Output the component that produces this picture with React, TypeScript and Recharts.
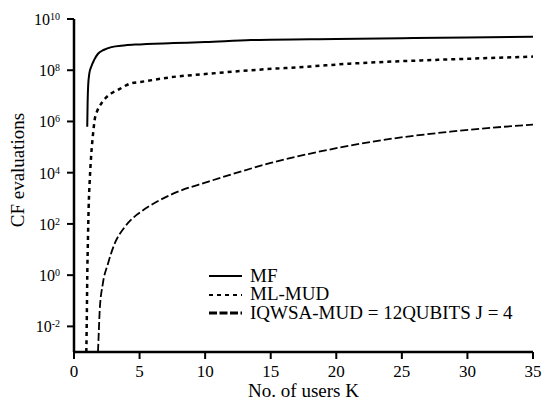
import { Line, LineChart, XAxis, YAxis } from "recharts";

const FONT = "'Liberation Serif', serif";

// (K, CF evaluations)
const mfK = [1.01, 1.04, 1.08, 1.17, 1.32, 1.55, 1.83, 2.3, 2.85, 3.8, 4.63, 7.6, 10, 13.5, 20, 25, 30, 35];
const mfVal = [6.2e5, 6.0e6, 2.5e7, 7.5e7, 1.4e8, 2.6e8, 4.4e8, 6.3e8, 8.0e8, 9.3e8, 1.0e9, 1.15e9, 1.26e9, 1.5e9, 1.66e9, 1.78e9, 1.9e9, 2.04e9];

const mlK = [0.94, 0.98, 1.01, 1.06, 1.12, 1.2, 1.32, 1.45, 1.57, 1.8, 2.08, 2.85, 3.3, 4.37, 5.08, 7.6, 10, 13.5, 18, 21, 23.6, 30, 35];
const mlVal = [1e-3, 0.03, 0.8, 20, 500, 5000, 5.6e4, 3.2e5, 1.1e6, 2.8e6, 5.0e6, 1.26e7, 1.66e7, 3.1e7, 3.5e7, 5.5e7, 7.1e7, 1.0e8, 1.4e8, 1.8e8, 2.1e8, 2.8e8, 3.4e8];

const iqK = [1.83, 1.9, 1.96, 2.2, 2.59, 3.1, 3.87, 4.75, 5.1, 7.6, 10.2, 12.7, 15, 18.5, 23.6, 28.7, 35];
const iqVal = [1e-3, 8e-3, 0.042, 0.47, 2.8, 17, 76, 220, 300, 1550, 4400, 1.1e4, 2.4e4, 6.3e4, 1.9e5, 4.0e5, 7.6e5];

const xTicks = [0, 5, 10, 15, 20, 25, 30, 35];
const yExps = [-2, 0, 2, 4, 6, 8, 10];
const yTicks = yExps.map((e) => Math.pow(10, e));

const seriesNames = ["MF", "ML-MUD", "IQWSA-MUD = 12QUBITS J = 4"];

const toPoints = (ks: number[], vals: number[]) => ks.map((k, i) => ({ k, v: vals[i] }));

const mfData = toPoints(mfK, mfVal);
const mlData = toPoints(mlK, mlVal);
const iqData = toPoints(iqK, iqVal);

const legendStyles = [
  { dash: undefined, width: 2 },
  { dash: "4 4", width: 2 },
  { dash: "8 2.5", width: 3 },
];

function YTick(props: any) {
  const { x, y, payload } = props;
  const exp = Math.round(Math.log10(payload.value));
  return (
    <text x={x} y={y + 6} textAnchor="end" style={{ fontFamily: FONT, fontSize: 16 }} fill="#000">
      <tspan>10</tspan>
      <tspan dy={-5} style={{ fontSize: 10 }}>
        {exp}
      </tspan>
    </text>
  );
}

function XTick(props: any) {
  const { x, y, payload } = props;
  return (
    <text x={x} y={y + 18} textAnchor="middle" style={{ fontFamily: FONT, fontSize: 17 }} fill="#000">
      {payload.value}
    </text>
  );
}

function LegendBox() {
  return (
    <div
      style={{
        position: "absolute",
        left: 209,
        top: 267,
        fontFamily: FONT,
        fontSize: 19,
        color: "#000",
      }}
    >
      {seriesNames.map((name, i) => (
        <div key={name} style={{ display: "flex", alignItems: "center", height: 18.4, whiteSpace: "nowrap" }}>
          <svg width={33} height={6} style={{ marginRight: 8 }}>
            <line
              x1={0}
              y1={3}
              x2={33}
              y2={3}
              stroke="#000"
              strokeWidth={legendStyles[i].width}
              strokeDasharray={legendStyles[i].dash}
            />
          </svg>
          <span style={{ display: "block", height: 18.4, lineHeight: "18.4px", overflow: "visible" }}>{name}</span>
        </div>
      ))}
    </div>
  );
}

export default function App() {
  return (
    <div style={{ position: "absolute", left: 0, top: 0, width: 543, height: 406, background: "#fff", fontFamily: FONT }}>
      <LineChart width={543} height={406} margin={{ top: 19, right: 10, bottom: 0, left: 0 }} style={{ fontFamily: FONT }}>
        <XAxis
          dataKey="k"
          type="number"
          domain={[0, 35]}
          ticks={xTicks}
          allowDataOverflow
          height={54}
          tickSize={7}
          tickMargin={0}
          axisLine={{ stroke: "#000", strokeWidth: 2.5 }}
          tickLine={{ stroke: "#000", strokeWidth: 2 }}
          tick={<XTick />}
          label={(p: any) => {
            const vb = p.viewBox;
            return (
              <text x={vb.x + vb.width / 2} y={397} textAnchor="middle" style={{ fontFamily: FONT, fontSize: 19 }} fill="#000">
                No. of users K
              </text>
            );
          }}
        />
        <YAxis
          dataKey="v"
          scale="log"
          domain={[1e-3, 1e10]}
          ticks={yTicks}
          allowDataOverflow
          width={74}
          tickSize={7}
          tickMargin={7}
          axisLine={{ stroke: "#000", strokeWidth: 2.5 }}
          tickLine={{ stroke: "#000", strokeWidth: 2 }}
          tick={<YTick />}
          label={() => (
            <text x={24} y={170} transform="rotate(-90, 24, 170)" textAnchor="middle" style={{ fontFamily: FONT, fontSize: 19 }} fill="#000">
              CF evaluations
            </text>
          )}
        />
        <Line data={mfData} dataKey="v" name={seriesNames[0]} type="monotone" stroke="#000" strokeWidth={2} dot={false} isAnimationActive={false} />
        <Line data={mlData} dataKey="v" name={seriesNames[1]} type="monotone" stroke="#000" strokeWidth={2.5} strokeDasharray="4 4" dot={false} isAnimationActive={false} />
        <Line data={iqData} dataKey="v" name={seriesNames[2]} type="monotone" stroke="#000" strokeWidth={1.8} strokeDasharray="8 3" dot={false} isAnimationActive={false} />
      </LineChart>
      <LegendBox />
    </div>
  );
}
